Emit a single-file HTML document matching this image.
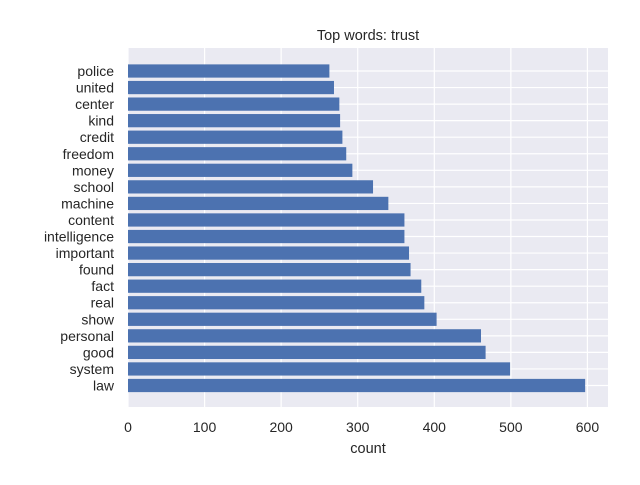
<!DOCTYPE html>
<html><head><meta charset="utf-8"><style>
body{margin:0;background:#fff;}
svg text{font-family:"Liberation Sans","DejaVu Sans",sans-serif;fill:#262626;}
</style></head><body>
<svg id="chart" width="640" height="480">
<rect x="128" y="48" width="480" height="359" fill="#eaeaf2"/>
<g id="grid"></g><g id="bars"></g><g id="ylabels"></g><g id="xlabels"></g>
<text x="368" y="40" text-anchor="middle" font-size="14.5">Top words: trust</text>
<text x="368" y="453" text-anchor="middle" font-size="14.5">count</text>
</svg>
<script>
const categories=["police","united","center","kind","credit","freedom","money","school","machine","content","intelligence","important","found","fact","real","show","personal","good","system","law"];
const counts=[263,269,276,277,280,285,293,320,340,361,361,367,369,383,387,403,461,467,499,597];
const xTicks=[0,100,200,300,400,500,600];
const NS="http://www.w3.org/2000/svg";
const x0=128,x1=608,y0=48,y1=407;
const xmax=Math.max(...counts)*1.05;
const xs=v=>x0+v/xmax*(x1-x0);
const n=categories.length;
const step=(385.5-71)/(n-1);
const ys=i=>71+i*step;
function mk(t,a,p){const e=document.createElementNS(NS,t);for(const k in a)e.setAttribute(k,a[k]);p.appendChild(e);return e;}
const grid=document.getElementById('grid'),bars=document.getElementById('bars'),yl=document.getElementById('ylabels'),xl=document.getElementById('xlabels');
xTicks.forEach(t=>{
  const l=mk('line',{x1:xs(t),x2:xs(t),y1:y0,y2:y1,stroke:'#fff','stroke-width':1.2},grid);
  
  
  const tx=mk('text',{x:xs(t),y:432,'text-anchor':'middle','font-size':14},xl);
  tx.textContent=t;
  
  
});
categories.forEach((c,i)=>{
  const y=ys(i);
  const g=mk('line',{x1:x0,x2:x1,y1:y,y2:y,stroke:'#fff','stroke-width':1.2},grid);
  
  
  const h=0.8*step;
  const r=mk('rect',{x:x0,y:y-h/2,width:xs(counts[i])-x0,height:h,fill:'#4c72b0'},bars);
  
  
  const t=mk('text',{x:114,y:y+5,'text-anchor':'end','font-size':14},yl);
  t.textContent=c;
  
  
});
</script>
</body></html>
